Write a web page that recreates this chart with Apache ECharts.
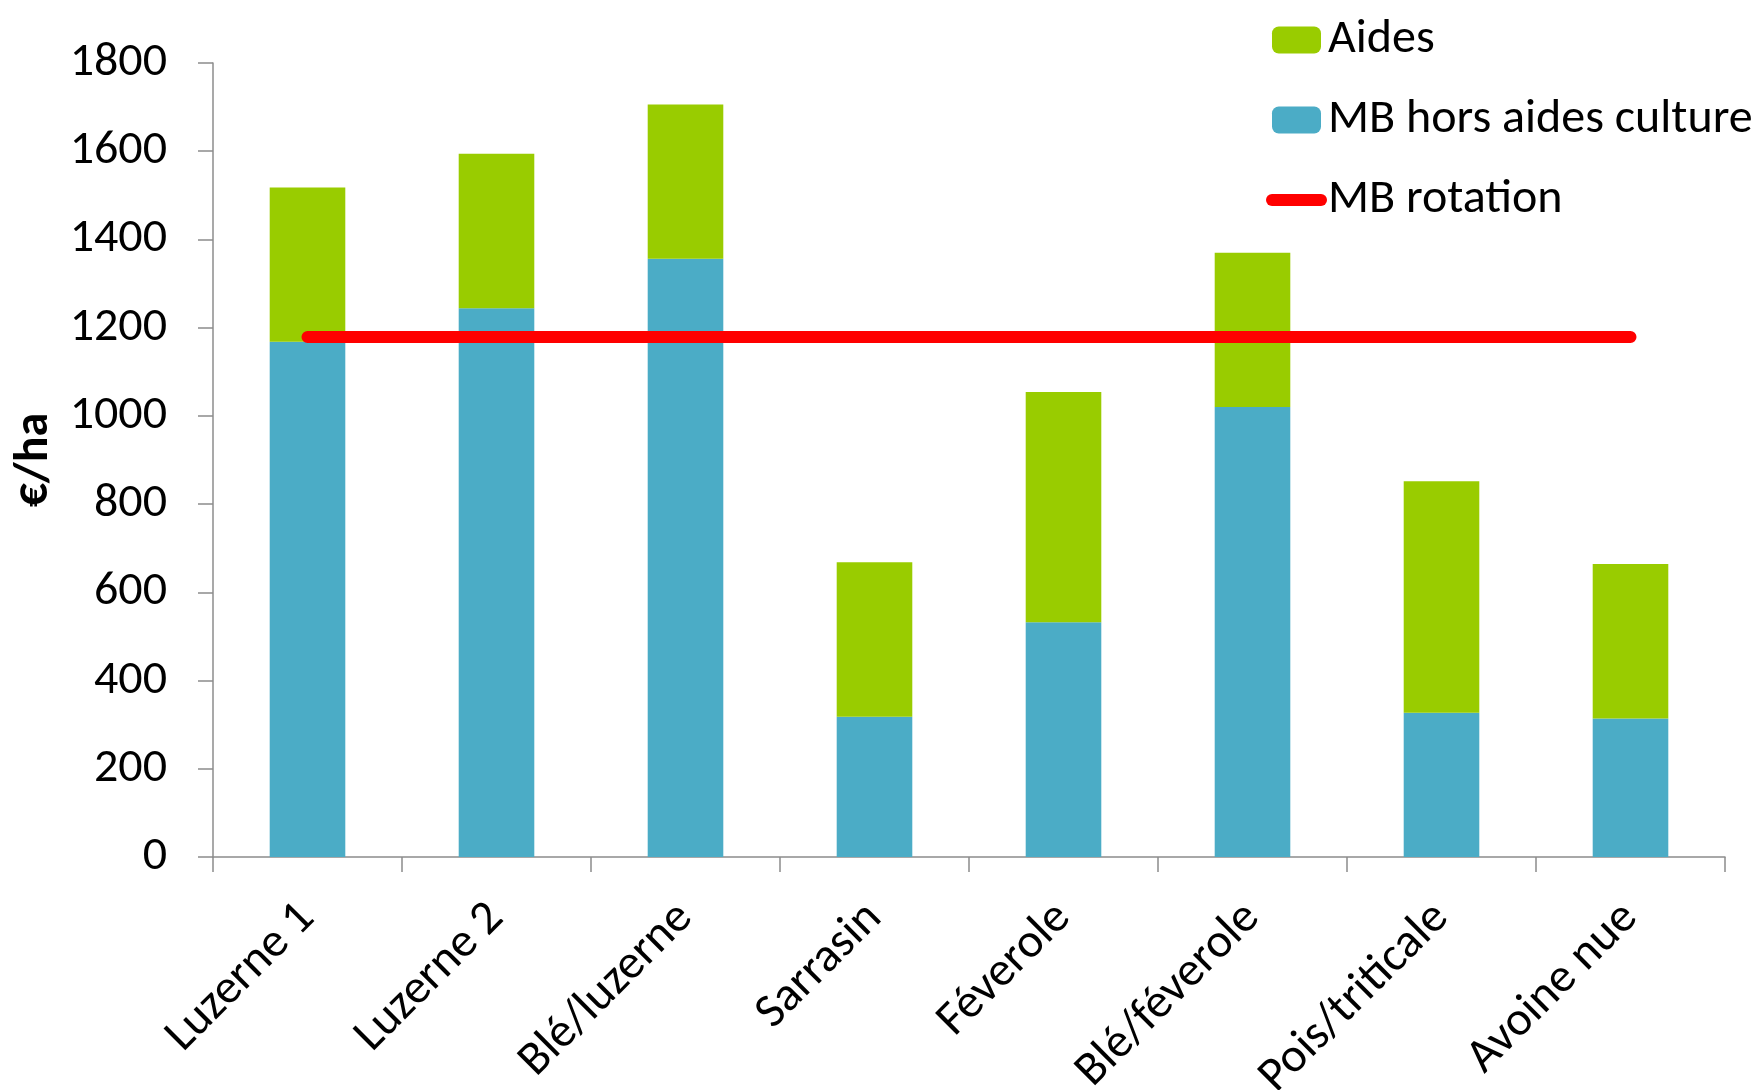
<!DOCTYPE html>
<html>
<head>
<meta charset="utf-8">
<script src="https://cdn.jsdelivr.net/npm/echarts@6/dist/echarts.min.js"></script>
<style>
html,body{margin:0;padding:0;background:#fff;}
#chart{width:1754px;height:1090px;}
</style>
</head>
<body>
<div id="chart"></div>
<script>
var categories = ['Luzerne 1', 'Luzerne 2', 'Blé/luzerne', 'Sarrasin', 'Féverole', 'Blé/féverole', 'Pois/triticale', 'Avoine nue'];
var mbHorsAides = [1168, 1244, 1356, 318, 532, 1020, 327, 314];
var aides = [350, 350, 350, 350, 522, 350, 525, 350];
var mbRotation = [1179, 1179, 1179, 1179, 1179, 1179, 1179, 1179];
var yTicks = { min: 0, max: 1800, interval: 200 };
var yAxisName = '€/ha';

var FONT = 'Carlito, Calibri, "Open Sans", sans-serif';
var chart = echarts.init(document.getElementById('chart'), null, { renderer: 'canvas' });
chart.setOption({
  animation: false,
  backgroundColor: '#ffffff',
  grid: { left: 213, right: 29, top: 63, bottom: 233, containLabel: false, outerBoundsMode: 'none' },
  legend: {
    orient: 'vertical',
    left: 1266,
    top: 15,
    padding: 0,
    itemWidth: 49,
    itemHeight: 27,
    itemGap: 30,
    data: [
      'Aides',
      'MB hors aides culture',
      { name: 'MB rotation', itemStyle: { opacity: 0 }, lineStyle: { width: 12, cap: 'round' } }
    ],
    textStyle: { fontFamily: FONT, fontSize: 48, color: '#000', lineHeight: 50, padding: [0, 0, 0, 2] }
  },
  xAxis: {
    type: 'category',
    data: categories,
    boundaryGap: true,
    axisLine: { show: true, lineStyle: { color: '#8c8c8c', width: 1.5 } },
    axisTick: { show: true, length: 15, alignWithLabel: false, lineStyle: { color: '#8c8c8c', width: 1.5 } },
    axisLabel: { rotate: 45, interval: 0, margin: 54, fontFamily: FONT, fontSize: 48, color: '#000' },
    splitLine: { show: false }
  },
  yAxis: {
    type: 'value',
    min: yTicks.min,
    max: yTicks.max,
    interval: yTicks.interval,
    name: yAxisName,
    nameLocation: 'middle',
    nameRotate: 90,
    nameGap: 154,
    nameTextStyle: { fontFamily: FONT, fontSize: 48, fontWeight: 'bold', color: '#000' },
    axisLine: { show: true, lineStyle: { color: '#8c8c8c', width: 1.5 } },
    axisTick: { show: true, length: 15, lineStyle: { color: '#8c8c8c', width: 1.5 } },
    axisLabel: {
      margin: 46, fontFamily: FONT, fontSize: 48, color: '#000',
      formatter: function (v) { return String(v); }
    },
    splitLine: { show: false }
  },
  series: [
    {
      name: 'MB hors aides culture',
      type: 'bar',
      stack: 'total',
      barWidth: '40%',
      data: mbHorsAides,
      itemStyle: { color: '#4BACC6' }
    },
    {
      name: 'Aides',
      type: 'bar',
      stack: 'total',
      barWidth: '40%',
      data: aides,
      itemStyle: { color: '#99CC00' }
    },
    {
      name: 'MB rotation',
      type: 'line',
      data: mbRotation,
      symbol: 'none',
      showSymbol: false,
      lineStyle: { color: '#FF0000', width: 12, cap: 'round' },
      itemStyle: { color: '#FF0000' },
      z: 5
    }
  ]
});
</script>
</body>
</html>
